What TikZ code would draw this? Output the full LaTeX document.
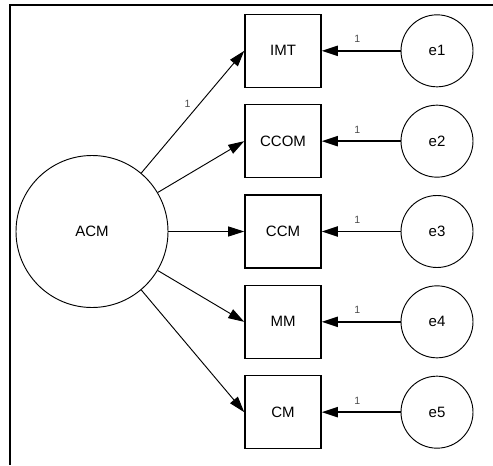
\documentclass[tikz,border=0pt]{standalone}
\usepackage{fontspec}
\setmainfont{Liberation Sans}
\usetikzlibrary{arrows.meta, positioning}

\begin{document}
\begin{tikzpicture}[
    latent/.style={circle, draw, line width=0.8pt, minimum size=4.56cm, inner sep=0pt, font=\fontsize{12.8}{15}\selectfont},
    observed/.style={rectangle, draw, line width=1.3pt, minimum width=2.28cm, minimum height=2.19cm, inner sep=0pt, font=\fontsize{12.8}{15}\selectfont},
    error/.style={circle, draw, line width=0.8pt, minimum size=2.16cm, inner sep=0pt, font=\fontsize{12.8}{15}\selectfont},
    loading/.style={-{Triangle[length=0.48cm, width=0.3cm]}, line width=0.8pt},
    errpath/.style={-{Triangle[length=0.48cm, width=0.3cm]}, line width=1.6pt},
    weight/.style={font=\fontsize{9}{10}\selectfont, text=gray!60!black, inner sep=1pt}
]
    \useasboundingbox (0, 0) rectangle (14.79, -13.95);

    % Frame
    \draw[line width=1.7pt] (14.79, -0.15) -- (0.3, -0.15) -- (0.3, -13.95);

    % Latent factor
    \node[latent] (acm) at (2.76, -6.945) {ACM};

    % Indicators
    \node[observed] (imt)  at (8.49, -1.525)  {IMT};
    \node[observed] (ccom) at (8.49, -4.235)  {CCOM};
    \node[observed] (ccm)  at (8.49, -6.945)  {CCM};
    \node[observed] (mm)   at (8.49, -9.655)  {MM};
    \node[observed] (cm)   at (8.49, -12.365) {CM};

    % Error terms
    \node[error] (e1) at (13.11, -1.525)  {e1};
    \node[error] (e2) at (13.11, -4.235)  {e2};
    \node[error] (e3) at (13.11, -6.945)  {e3};
    \node[error] (e4) at (13.11, -9.655)  {e4};
    \node[error] (e5) at (13.11, -12.365) {e5};

    % Factor loadings
    \draw[loading] (acm) -- node[weight, pos=0.5, above left=0.08cm and 0.02cm] {1} (imt.west);
    \draw[loading] (acm) -- (ccom.west);
    \draw[loading] (acm) -- (ccm.west);
    \draw[loading] (acm) -- (mm.west);
    \draw[loading] (acm) -- (cm.west);

    % Error paths
    \draw[errpath] (e1) -- node[weight, pos=0.55, above=0.18cm] {1} (imt);
    \draw[errpath] (e2) -- node[weight, pos=0.55, above=0.18cm] {1} (ccom);
    \draw[errpath] (e3) -- node[weight, pos=0.55, above=0.18cm] {1} (ccm);
    \draw[errpath] (e4) -- node[weight, pos=0.55, above=0.18cm] {1} (mm);
    \draw[errpath] (e5) -- node[weight, pos=0.55, above=0.18cm] {1} (cm);
\end{tikzpicture}
\end{document}
